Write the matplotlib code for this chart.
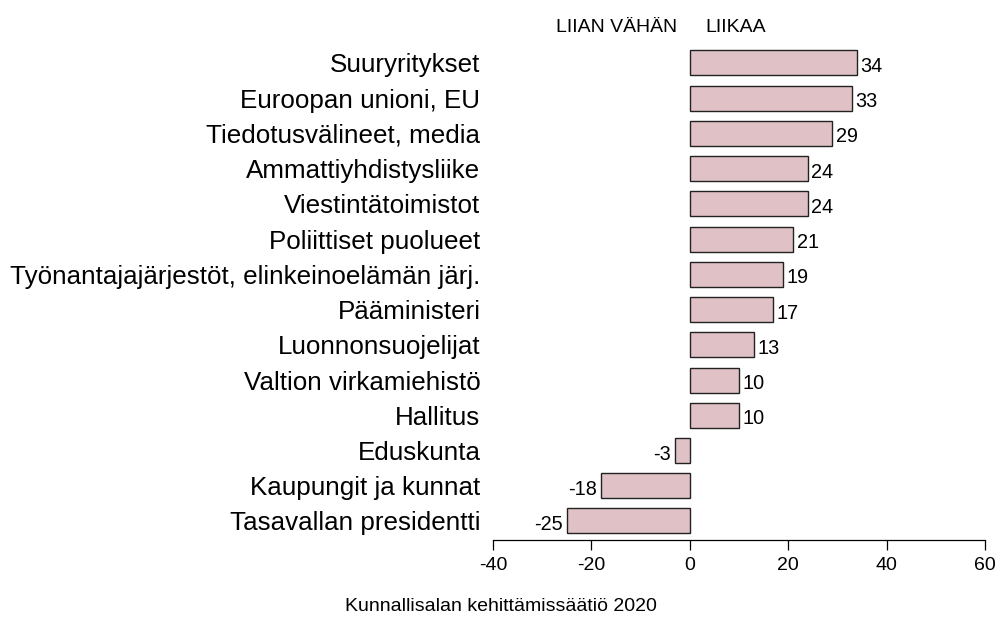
import matplotlib.pyplot as plt

plt.rcParams['font.family'] = ['Liberation Sans', 'DejaVu Sans']

# data, top to bottom as in the chart
categories = ['Suuryritykset', 'Euroopan unioni, EU', 'Tiedotusvälineet, media',
              'Ammattiyhdistysliike', 'Viestintätoimistot', 'Poliittiset puolueet',
              'Työnantajajärjestöt, elinkeinoelämän järj.', 'Pääministeri',
              'Luonnonsuojelijat', 'Valtion virkamiehistö', 'Hallitus', 'Eduskunta',
              'Kaupungit ja kunnat', 'Tasavallan presidentti']
values = [34, 33, 29, 24, 24, 21, 19, 17, 13, 10, 10, -3, -18, -25]
xticks = [-40, -20, 0, 20, 40, 60]

fig = plt.figure(figsize=(10.03, 6.19), dpi=100)
ax = fig.add_axes([0.4915, 0.1276, 0.4905, 0.7991])

# reverse so the first category ends up at the top
ypos = list(range(len(categories)))[::-1]
ax.barh(ypos, values, height=0.71, color='#e0c2c6', edgecolor='#222222', linewidth=1.0)

for y, v in zip(ypos, values):
    if v >= 0:
        ax.text(v + 0.7, y - 0.1, str(v), ha='left', va='center', fontsize=14.3)
    else:
        ax.text(v - 0.9, y - 0.1, str(v), ha='right', va='center', fontsize=14.3)

ax.set_xlim(-40, 60)
ax.set_ylim(-0.54, 13.5)
ax.set_xticks(xticks)
ax.set_xticklabels([str(t) for t in xticks], fontsize=14)
ax.set_yticks(ypos)
ax.set_yticklabels(categories, fontsize=18.7)
ax.tick_params(axis='y', length=0, pad=9)
ax.tick_params(axis='x', length=7, width=0.9, pad=5)

for side in ['top', 'right', 'left']:
    ax.spines[side].set_visible(False)
ax.spines['bottom'].set_bounds(-40, 60)
ax.spines['bottom'].set_linewidth(0.9)

fig.text(0.615, 0.955, 'LIIAN VÄHÄN', ha='center', va='center', fontsize=14)
fig.text(0.733, 0.955, 'LIIKAA', ha='center', va='center', fontsize=14)
fig.text(0.499, 0.021, 'Kunnallisalan kehittämissäätiö 2020', ha='center', va='center', fontsize=14)

fig.savefig('out.png', dpi=100)
